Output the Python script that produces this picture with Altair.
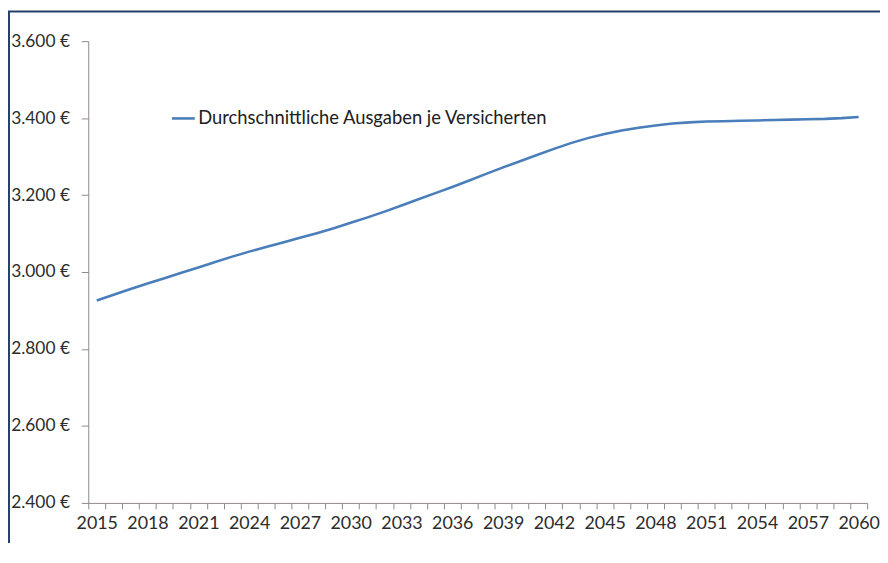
import altair as alt
import pandas as pd

years = list(range(2015, 2061))
ausgaben = [2926, 2941, 2956, 2970, 2984, 2998, 3012, 3026, 3040, 3053,
            3065, 3077, 3089, 3101, 3114, 3128, 3142, 3157, 3173, 3189,
            3205, 3221, 3238, 3255, 3272, 3288, 3304, 3320, 3335, 3348,
            3359, 3368, 3375, 3381, 3386, 3389, 3391, 3392, 3393, 3394,
            3395, 3396, 3397, 3398, 3400, 3403]
series_name = "Durchschnittliche Ausgaben je Versicherten"
x_label_years = list(range(2015, 2061, 3))
x_tick_bounds = [y - 0.5 for y in range(2015, 2062)]
y_ticks = [2400, 2600, 2800, 3000, 3200, 3400, 3600]

df = pd.DataFrame({"Jahr": years, "Ausgaben": ausgaben, "Serie": [series_name] * len(years)})

FONT = "Lato"
AXIS_COL = "#8f8a86"
TXT_COL = "#2c2c2c"

xscale = alt.Scale(domain=[2014.5, 2060.5], nice=False, zero=False)
yscale = alt.Scale(domain=[2400, 3600], nice=False, zero=False)

yaxis = alt.Axis(values=y_ticks, grid=False, tickSize=7, tickColor=AXIS_COL,
                 domainColor=AXIS_COL, labelFont=FONT, labelFontSize=17.5,
                 labelColor=TXT_COL, labelPadding=12,
                 labelExpr="replace(format(datum.value, ','), ',', '.') + ' €'")

line = alt.Chart(df).mark_line(strokeWidth=2.6).encode(
    x=alt.X("Jahr:Q", scale=xscale, title=None,
            axis=alt.Axis(values=x_label_years, ticks=False, grid=False, orient="bottom",
                          format="d", labelFont=FONT, labelFontSize=18, labelColor=TXT_COL,
                          labelPadding=12, domainColor=AXIS_COL, domainWidth=1,
                          labelFlush=False, labelOverlap=False)),
    y=alt.Y("Ausgaben:Q", scale=yscale, title=None, axis=yaxis),
    color=alt.Color("Serie:N", scale=alt.Scale(range=["#4A7EBB"]),
                    legend=alt.Legend(title=None, orient="none", legendX=83, legendY=65,
                                      symbolType="stroke", symbolSize=529,
                                      symbolStrokeWidth=2.6, labelFont=FONT,
                                      labelFontSize=18.5, labelColor="#202020",
                                      labelOffset=2, padding=0, labelLimit=0)),
)

ticks_layer = alt.Chart(df).mark_line(strokeOpacity=0).encode(
    x=alt.X("Jahr:Q", scale=xscale, title=None,
            axis=alt.Axis(values=x_tick_bounds, labels=False, domain=False, grid=False,
                          orient="bottom", tickSize=6, tickColor=AXIS_COL)),
    y=alt.Y("Ausgaben:Q", scale=yscale, title=None, axis=yaxis),
)

border_df = pd.DataFrame({"b": [0]})
border_left = alt.Chart(border_df).mark_rule(color="#24406e", strokeWidth=2).encode(
    x=alt.value(-80), y=alt.value(-30), y2=alt.value(520))
border_top = alt.Chart(border_df).mark_rule(color="#24406e", strokeWidth=2).encode(
    x=alt.value(-81), x2=alt.value(820), y=alt.value(-30))

chart = alt.layer(line, ticks_layer, border_left, border_top).resolve_axis(
    x="independent"
).properties(
    width=786, height=466,
    autosize=alt.AutoSizeParams(type="none"),
    padding={"left": 81, "top": 31, "right": 13, "bottom": 38},
).configure(background="white").configure_view(strokeWidth=0, stroke="transparent")

chart.save("out.html", embed_options={"renderer": "svg", "actions": False})
